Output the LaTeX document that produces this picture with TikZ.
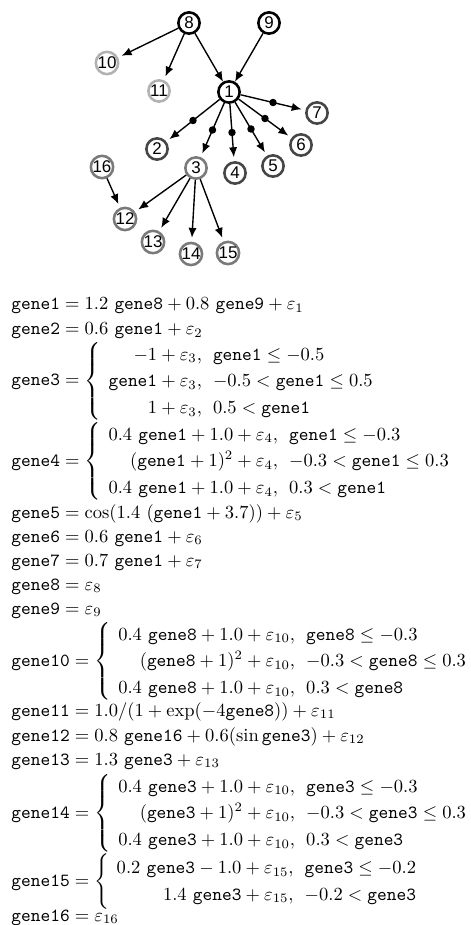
\documentclass[tikz,border=0pt]{standalone}
\usepackage{amsmath,amssymb}
\usepackage{fontspec}
\newfontfamily\nodefont{Liberation Sans}
\usetikzlibrary{arrows.meta}

\definecolor{rimdark}{HTML}{464646}
\definecolor{rimmid}{HTML}{7A7A7A}
\definecolor{rimlight}{HTML}{B2B2B2}

\newcommand{\gn}[1]{\mathtt{gene#1}}
\newcommand{\piecewise}[1]{\left\{\renewcommand{\arraystretch}{1.2}%
  \begin{array}{@{\hspace{4pt}}r@{\hspace{6pt}}l@{}}#1\end{array}\right.}
\newcommand{\eqtext}[1]{\scalebox{0.94}{$#1$}}

\begin{document}
\begin{tikzpicture}[x=0.5076pt, y=-0.5076pt, >={Latex[length=5pt,width=4.2pt]}]

    % Styles for the gene network
    \tikzset{
        gnode/.style={circle, draw, line width=1.3pt, minimum size=10.8pt, inner sep=0pt,
            font=\nodefont\fontsize{8.6}{9}\selectfont},
        gblack/.style={gnode, draw=black},
        gdark/.style={gnode, draw=rimdark},
        gmid/.style={gnode, draw=rimmid},
        glight/.style={gnode, draw=rimlight},
        arr/.style={->, line width=0.7pt, shorten >=2pt},
        dotmark/.style={circle, fill=black, inner sep=0pt, minimum size=3.8pt},
        eqline/.style={anchor=base west, inner sep=0pt}
    }
    \useasboundingbox (0,0) rectangle (470,925);

    % ==========================================
    % Network
    % ==========================================
    \node[gblack] (n8) at (189,23) {8};
    \node[gblack] (n9) at (269,23) {9};
    \node[gblack] (n1) at (229,92) {1};
    \node[glight] (n10) at (107,63) {10};
    \node[glight] (n11) at (159,91) {11};
    \node[gdark] (n2) at (157,149) {2};
    \node[gmid]  (n3) at (196,168) {3};
    \node[gdark] (n4) at (235,173) {4};
    \node[gdark] (n5) at (273,166) {5};
    \node[gdark] (n6) at (301,145) {6};
    \node[gdark] (n7) at (317,113) {7};
    \node[gmid] (n16) at (102,167) {16};
    \node[gmid] (n12) at (125,219) {12};
    \node[gmid] (n13) at (153,242) {13};
    \node[gmid] (n14) at (191,254) {14};
    \node[gmid] (n15) at (228,253) {15};

    % Edges
    \draw[arr] (n8) -- (n10);
    \draw[arr] (n8) -- (n11);
    \draw[arr, shorten >=0pt] (n8) -- (n1);
    \draw[arr, shorten >=0pt] (n9) -- (n1);
    \foreach \c in {2,...,7}
        \draw[arr] (n1) -- node[dotmark] {} (n\c);
    \foreach \c in {12,...,15}
        \draw[arr] (n3) -- (n\c);
    \draw[arr] (n16) -- (n12);

    % ==========================================
    % Equations
    % ==========================================
    \node[eqline] (eq1) at (11,310) {\eqtext{\gn{1} = 1.2\ \gn{8} + 0.8\ \gn{9} + \varepsilon_1}};
    \node[eqline] (eq2) at (11,335) {\eqtext{\gn{2} = 0.6\ \gn{1} + \varepsilon_2}};
    \node[eqline] (eq3) at (11,386) {\eqtext{\gn{3} = \piecewise{
        -1 + \varepsilon_3, & \gn{1} \le -0.5\\
        \gn{1} + \varepsilon_3, & -0.5 < \gn{1} \le 0.5\\
        1 + \varepsilon_3, & 0.5 < \gn{1}}}};
    \node[eqline] (eq4) at (11,466) {\eqtext{\gn{4} = \piecewise{
        0.4\ \gn{1} + 1.0 + \varepsilon_4, & \gn{1} \le -0.3\\
        (\gn{1} + 1)^2 + \varepsilon_4, & -0.3 < \gn{1} \le 0.3\\
        0.4\ \gn{1} + 1.0 + \varepsilon_4, & 0.3 < \gn{1}}}};
    \node[eqline] (eq5) at (11,518) {\eqtext{\gn{5} = \cos(1.4\ (\gn{1} + 3.7)) + \varepsilon_5}};
    \node[eqline] (eq6) at (11,542) {\eqtext{\gn{6} = 0.6\ \gn{1} + \varepsilon_6}};
    \node[eqline] (eq7) at (11,566) {\eqtext{\gn{7} = 0.7\ \gn{1} + \varepsilon_7}};
    \node[eqline] (eq8) at (11,590) {\eqtext{\gn{8} = \varepsilon_8}};
    \node[eqline] (eq9) at (11,614) {\eqtext{\gn{9} = \varepsilon_9}};
    \node[eqline] (eq10) at (11,666) {\eqtext{\gn{10} = \piecewise{
        0.4\ \gn{8} + 1.0 + \varepsilon_{10}, & \gn{8} \le -0.3\\
        (\gn{8} + 1)^2 + \varepsilon_{10}, & -0.3 < \gn{8} \le 0.3\\
        0.4\ \gn{8} + 1.0 + \varepsilon_{10}, & 0.3 < \gn{8}}}};
    \node[eqline] (eq11) at (11,716) {\eqtext{\gn{11} = 1.0/(1 + \exp(-4\gn{8})) + \varepsilon_{11}}};
    \node[eqline] (eq12) at (11,741) {\eqtext{\gn{12} = 0.8\ \gn{16} + 0.6(\sin\gn{3}) + \varepsilon_{12}}};
    \node[eqline] (eq13) at (11,765) {\eqtext{\gn{13} = 1.3\ \gn{3} + \varepsilon_{13}}};
    \node[eqline] (eq14) at (11,818) {\eqtext{\gn{14} = \piecewise{
        0.4\ \gn{3} + 1.0 + \varepsilon_{10}, & \gn{3} \le -0.3\\
        (\gn{3} + 1)^2 + \varepsilon_{10}, & -0.3 < \gn{3} \le 0.3\\
        0.4\ \gn{3} + 1.0 + \varepsilon_{10}, & 0.3 < \gn{3}}}};
    \node[eqline] (eq15) at (11,886) {\eqtext{\gn{15} = \piecewise{
        0.2\ \gn{3} - 1.0 + \varepsilon_{15}, & \gn{3} \le -0.2\\
        1.4\ \gn{3} + \varepsilon_{15}, & -0.2 < \gn{3}}}};
    \node[eqline] (eq16) at (11,921) {\eqtext{\gn{16} = \varepsilon_{16}}};

\end{tikzpicture}
\end{document}
